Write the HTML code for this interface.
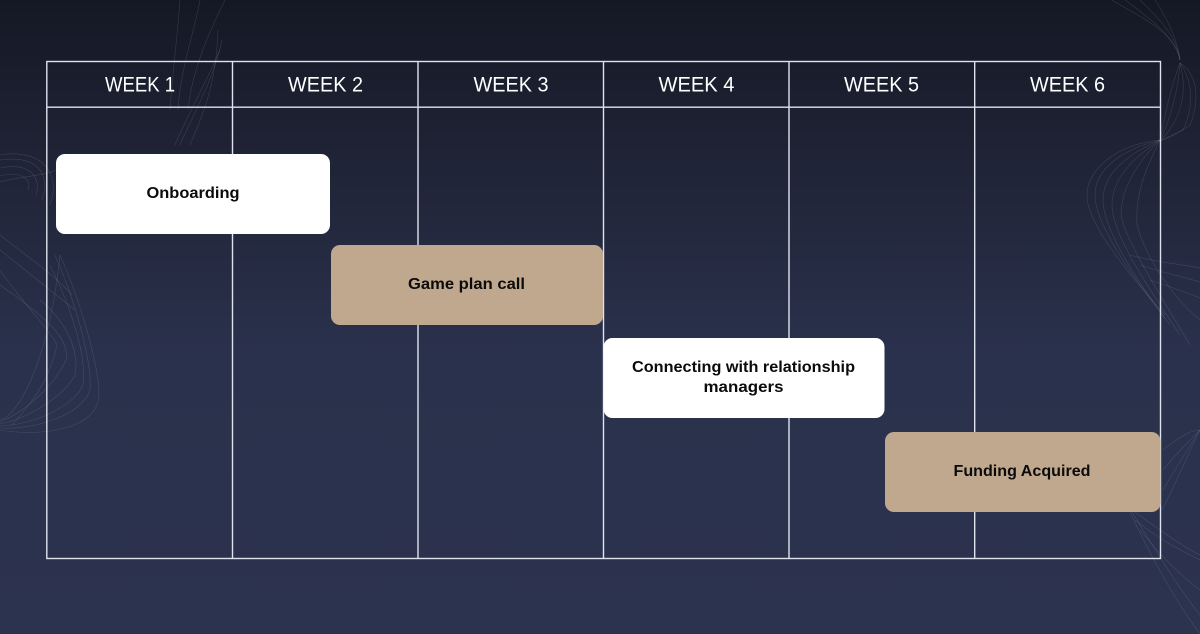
<!DOCTYPE html>
<html><head><meta charset="utf-8"><style>
html,body{margin:0;padding:0;width:1200px;height:634px;overflow:hidden;background:#2c334e}
svg{display:block}
text{font-family:"Liberation Sans",sans-serif}
.h{font-size:21px;fill:#fff;text-anchor:middle}
.t{font-size:16px;font-weight:bold;fill:#0b0b0b;text-anchor:middle}
.w{fill:none;stroke:#aab2c8;stroke-width:.6;opacity:.2}
</style></head><body>
<svg width="1200" height="634" viewBox="0 0 1200 634" xmlns="http://www.w3.org/2000/svg">
<defs><linearGradient id="bg" x1="0" y1="0" x2="0" y2="1"><stop offset="0" stop-color="#151824"/><stop offset=".2" stop-color="#1d2132"/><stop offset=".55" stop-color="#2a314c"/><stop offset="1" stop-color="#2c334e"/></linearGradient></defs>
<rect width="1200" height="634" fill="url(#bg)"/>
<g>
<path class="w" d="M0 155C40 148 62 172 50 205"/><path class="w" d="M0 160C35 155 52 172 42 200"/><path class="w" d="M0 168C28 162 42 176 36 195"/><path class="w" d="M0 176C22 170 32 180 28 190"/><path class="w" d="M0 182C20 176 45 176 56 170"/>
<path class="w" d="M175 145C185 120 205 85 220 50"/><path class="w" d="M180 145C190 120 212 85 222 40"/><path class="w" d="M190 145C200 120 216 90 218 30"/><path class="w" d="M170 110C172 80 178 30 180 0"/><path class="w" d="M178 110C180 70 195 30 200 0"/><path class="w" d="M188 110C192 70 210 30 225 0"/>
<path class="w" d="M0 420C20 415 50 355 60 255"/><path class="w" d="M0 428C35 430 82 415 90 390C92 360 75 300 55 255"/><path class="w" d="M0 430C40 437 98 430 99 395C99 365 80 300 60 255"/><path class="w" d="M0 426C35 425 75 405 83 385C87 355 70 305 50 265"/><path class="w" d="M0 424C30 418 65 395 75 375C80 350 65 320 40 300"/><path class="w" d="M0 422C25 412 55 385 66 360C70 340 50 320 0 285"/><path class="w" d="M12 425C30 405 50 380 57 345C50 330 20 300 0 270"/><path class="w" d="M0 235C25 255 55 275 72 295"/><path class="w" d="M0 250C25 270 50 290 75 310"/>
<path class="w" d="M1112 0C1135 15 1175 30 1180 60"/><path class="w" d="M1125 0C1145 15 1175 35 1180 60"/><path class="w" d="M1140 0C1155 15 1177 35 1180 60"/><path class="w" d="M1155 0C1165 15 1178 40 1180 60"/>
<path class="w" d="M1180 63C1198 75 1200 100 1190 125C1180 132 1170 136 1160 141"/><path class="w" d="M1180 63C1192 80 1195 105 1183 130C1175 135 1168 138 1160 141"/><path class="w" d="M1180 63C1186 85 1186 115 1160 141"/><path class="w" d="M1180 63C1178 90 1172 115 1160 141"/><path class="w" d="M1180 63C1170 90 1165 115 1160 141"/>
<path class="w" d="M1160 140C1115 145 1087 170 1087 195C1087 225 1130 275 1165 315"/><path class="w" d="M1160 140C1120 150 1095 170 1095 195C1095 225 1135 280 1165 318"/><path class="w" d="M1160 140C1125 155 1103 175 1103 200C1103 230 1140 285 1170 325"/><path class="w" d="M1160 140C1130 160 1112 180 1112 205C1112 235 1150 290 1180 335"/><path class="w" d="M1160 140C1135 165 1121 190 1121 215C1125 240 1160 295 1190 345"/><path class="w" d="M1160 140C1145 170 1135 195 1137 225C1145 255 1170 295 1200 320"/><path class="w" d="M1130 255C1155 262 1180 264 1200 268"/><path class="w" d="M1140 265C1160 272 1180 276 1200 282"/><path class="w" d="M1150 280C1165 285 1185 292 1200 298"/>
<path class="w" d="M1130 512C1150 555 1175 600 1200 634"/><path class="w" d="M1132 512C1155 550 1180 590 1200 615"/><path class="w" d="M1140 530C1160 555 1180 575 1200 590"/><path class="w" d="M1135 520C1160 540 1180 550 1200 560"/><path class="w" d="M1135 512C1160 530 1180 545 1200 555"/><path class="w" d="M1163 450C1175 440 1190 430 1200 430"/><path class="w" d="M1163 470C1175 455 1190 440 1200 430"/><path class="w" d="M1163 490C1175 470 1190 445 1200 430"/><path class="w" d="M1162 510C1175 485 1190 450 1200 430"/>
</g>
<g fill="none" stroke="#dfe3ee" stroke-width="1.4">
<rect x="46.8" y="61.5" width="1113.7" height="497"/>
<path d="M46.8 107.2H1160.5M232.5 61.5V558.5M418 61.5V558.5M603.5 61.5V558.5M789 61.5V558.5M974.7 61.5V558.5"/>
</g>
<g>
<text class="h" x="140" y="91.5" textLength="70" lengthAdjust="spacingAndGlyphs">WEEK 1</text>
<text class="h" x="325.5" y="91.5" textLength="75" lengthAdjust="spacingAndGlyphs">WEEK 2</text>
<text class="h" x="511" y="91.5" textLength="75" lengthAdjust="spacingAndGlyphs">WEEK 3</text>
<text class="h" x="696.5" y="91.5" textLength="76" lengthAdjust="spacingAndGlyphs">WEEK 4</text>
<text class="h" x="881.5" y="91.5" textLength="75" lengthAdjust="spacingAndGlyphs">WEEK 5</text>
<text class="h" x="1067.5" y="91.5" textLength="75" lengthAdjust="spacingAndGlyphs">WEEK 6</text>
</g>
<rect x="56" y="154" width="274" height="80" rx="9" fill="#fff"/>
<rect x="331" y="245" width="272" height="80" rx="9" fill="#c0a88f"/>
<rect x="603.5" y="338" width="281" height="80" rx="9" fill="#fff"/>
<rect x="885" y="432" width="275.5" height="80" rx="9" fill="#c0a88f"/>
<text class="t" x="193" y="198" textLength="93" lengthAdjust="spacingAndGlyphs">Onboarding</text>
<text class="t" x="466.5" y="289" textLength="117" lengthAdjust="spacingAndGlyphs">Game plan call</text>
<text class="t" x="743.5" y="372" textLength="223" lengthAdjust="spacingAndGlyphs">Connecting with relationship</text>
<text class="t" x="743.5" y="392" textLength="80" lengthAdjust="spacingAndGlyphs">managers</text>
<text class="t" x="1022" y="476" textLength="137" lengthAdjust="spacingAndGlyphs">Funding Acquired</text>
</svg>
</body></html>
